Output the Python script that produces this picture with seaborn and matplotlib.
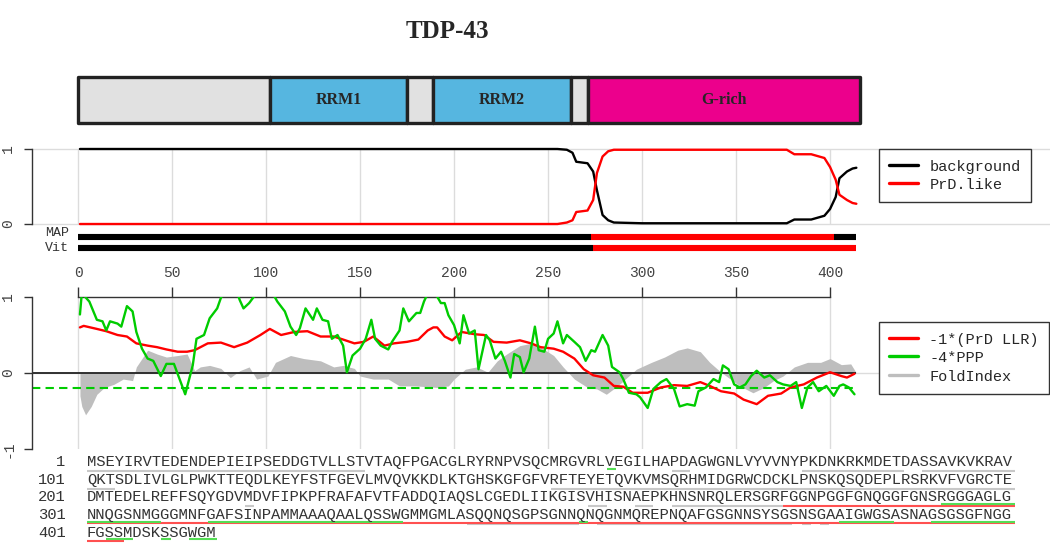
import matplotlib
matplotlib.use("Agg")
import matplotlib.pyplot as plt
from matplotlib.lines import Line2D
import seaborn as sns

# ---------------------------------------------------------------------------
# Dados
# ---------------------------------------------------------------------------

PROTEIN = "TDP-43"
SEQUENCE = (
    "MSEYIRVTEDENDEPIEIPSEDDGTVLLSTVTAQFPGACGLRYRNPVSQCMRGVRLVEGILHAPDAGWGNLVYVVNYPKDNKRKMDETDASSAVKVKRAV"
    "QKTSDLIVLGLPWKTTEQDLKEYFSTFGEVLMVQVKKDLKTGHSKGFGFVRFTEYETQVKVMSQRHMIDGRWCDCKLPNSKQSQDEPLRSRKVFVGRCTE"
    "DMTEDELREFFSQYGDVMDVFIPKPFRAFAFVTFADDQIAQSLCGEDLIIKGISVHISNAEPKHNSNRQLERSGRFGGNPGGFGNQGGFGNSRGGGAGLG"
    "NNQGSNMGGGMNFGAFSINPAMMAAAQAALQSSWGMMGMLASQQNQSGPSGNNQNQGNMQREPNQAFGSGNNSYSGSNSGAAIGWGSASNAGSGSGFNGG"
    "FGSSMDSKSSGWGM"
)
SEQ_LEN = len(SEQUENCE)

# dominios (limites em residuos)
domain_names = ["", "RRM1", "", "RRM2", "", "G-rich"]
domain_bounds = [0, 102, 175, 189, 262, 271, 416]
domain_colors = ["#e1e1e1", "#56b6e0", "#e1e1e1", "#56b6e0", "#e1e1e1", "#ec008c"]

# probabilidades posteriores (HMM)
hmm_pos = [1, 255, 260, 263, 265, 271, 274, 276, 279, 282, 285, 300, 350, 377,
           381, 390, 397, 400, 403, 405, 409, 412, 414]
background = [1.0, 1.0, 0.99, 0.95, 0.83, 0.81, 0.70, 0.45, 0.12, 0.05, 0.02, 0.01, 0.01, 0.01,
              0.06, 0.06, 0.11, 0.20, 0.36, 0.61, 0.70, 0.74, 0.75]
prd_like = [0.0, 0.0, 0.02, 0.05, 0.16, 0.18, 0.32, 0.68, 0.90, 0.97, 0.99, 0.99, 0.99, 0.99,
            0.93, 0.93, 0.88, 0.76, 0.59, 0.39, 0.32, 0.28, 0.27]

# parses MAP e Viterbi: (inicio, fim, estado)
map_parse = [(0, 273, "background"), (273, 402, "PrD.like"), (402, 414, "background")]
vit_parse = [(0, 274, "background"), (274, 414, "PrD.like")]

# -1*(PrD LLR)
llr_pos = [1, 3, 10, 15, 21, 26, 31, 37, 42, 47, 53, 58, 62, 69, 76, 83, 90, 97, 102, 108,
           115, 122, 129, 136, 141, 147, 152, 157, 163, 168, 175, 181, 186, 189, 191, 195, 199,
           204, 211, 216, 221, 228, 235, 241, 246, 253, 258, 264, 269, 274, 280, 285, 290, 295,
           303, 310, 317, 324, 331, 336, 342, 349, 354, 361, 367, 374, 379, 386, 393, 400, 406,
           409, 413]
llr = [0.60, 0.62, 0.58, 0.55, 0.50, 0.48, 0.39, 0.36, 0.34, 0.31, 0.28, 0.28, 0.30, 0.39, 0.40,
       0.34, 0.40, 0.50, 0.58, 0.50, 0.54, 0.55, 0.48, 0.48, 0.44, 0.39, 0.41, 0.48, 0.36, 0.39,
       0.41, 0.44, 0.56, 0.60, 0.60, 0.48, 0.43, 0.54, 0.51, 0.50, 0.41, 0.40, 0.43, 0.39, 0.34,
       0.32, 0.28, 0.19, 0.05, -0.03, -0.06, -0.17, -0.18, -0.26, -0.26, -0.19, -0.16, -0.17,
       -0.12, -0.17, -0.24, -0.27, -0.35, -0.41, -0.30, -0.27, -0.19, -0.15, -0.06, 0.01, -0.04,
       -0.06, -0.01]

# -4*PPP
ppp_pos = [1, 2, 6, 10, 13, 15, 17, 21, 23, 26, 29, 31, 34, 37, 40, 44, 47, 51, 54, 57, 61, 63,
           67, 70, 74, 76, 80, 84, 86, 88, 91, 94, 100, 106, 110, 113, 116, 118, 121, 125, 127,
           130, 133, 135, 138, 141, 143, 146, 150, 153, 156, 158, 161, 165, 167, 171, 173, 176,
           180, 182, 184, 187, 190, 193, 195, 197, 200, 203, 205, 208, 211, 213, 217, 219, 222,
           225, 227, 230, 232, 235, 237, 240, 243, 245, 248, 250, 253, 255, 258, 260, 264, 267,
           270, 273, 275, 279, 282, 284, 288, 290, 293, 297, 299, 303, 306, 310, 313, 317, 320,
           324, 328, 330, 334, 338, 341, 343, 346, 349, 352, 355, 358, 361, 365, 368, 372, 375,
           379, 382, 385, 388, 391, 394, 398, 402, 405, 407, 410, 413]
ppp = [0.77, 1.05, 0.94, 0.70, 0.68, 0.56, 0.68, 0.65, 0.61, 0.88, 0.81, 0.54, 0.32, 0.19, 0.16,
       -0.04, 0.12, 0.12, -0.08, -0.28, 0.10, 0.45, 0.50, 0.72, 0.85, 0.99, 1.15, 1.10, 0.96, 0.85,
       0.92, 1.02, 1.20, 0.94, 0.81, 0.61, 0.50, 0.59, 0.85, 0.70, 0.85, 0.70, 0.68, 0.45, 0.50,
       0.36, 0.01, 0.23, 0.32, 0.45, 0.70, 0.45, 0.36, 0.31, 0.41, 0.56, 0.85, 0.68, 0.79, 0.79,
       0.94, 1.10, 1.05, 0.92, 0.92, 0.76, 0.63, 0.39, 0.76, 0.52, 0.56, 0.05, 0.50, 0.43, 0.19,
       0.28, 0.16, -0.06, 0.25, 0.21, 0.01, 0.19, 0.61, 0.30, 0.28, 0.45, 0.52, 0.68, 0.39, 0.50,
       0.41, 0.34, 0.16, 0.30, 0.28, 0.50, 0.36, 0.08, 0.01, -0.08, -0.26, -0.28, -0.32, -0.46,
       -0.21, -0.12, -0.08, -0.21, -0.44, -0.41, -0.43, -0.24, -0.19, -0.08, -0.12, 0.10, 0.05,
       -0.15, -0.19, -0.15, -0.04, 0.03, -0.06, -0.03, -0.12, -0.15, -0.17, -0.12, -0.46, -0.19,
       -0.12, -0.24, -0.17, -0.30, -0.17, -0.15, -0.19, -0.28]
PPP_THRESHOLD = -0.2

# FoldIndex
fold_pos = [1, 2, 4, 7, 10, 14, 19, 24, 29, 31, 37, 42, 47, 53, 58, 62, 65, 70, 76, 81, 86, 91,
            95, 101, 105, 113, 120, 129, 136, 141, 147, 150, 157, 165, 171, 179, 186, 191, 197,
            200, 206, 212, 218, 223, 228, 235, 241, 246, 253, 258, 264, 271, 276, 281, 287, 292,
            297, 305, 312, 319, 324, 331, 336, 342, 347, 352, 359, 365, 370, 375, 381, 388, 395,
            400, 406, 411, 414]
fold_index = [-0.30, -0.44, -0.55, -0.44, -0.28, -0.19, -0.15, -0.08, -0.10, 0.08, 0.30, 0.25,
              0.21, 0.23, 0.25, 0.03, 0.08, 0.10, 0.06, -0.06, 0.03, 0.08, -0.08, -0.04, 0.14,
              0.23, 0.19, 0.16, 0.08, 0.10, 0.06, -0.04, -0.08, -0.08, -0.17, -0.17, -0.18, -0.19,
              -0.17, -0.08, 0.05, 0.08, 0.01, 0.16, 0.25, 0.36, 0.39, 0.34, 0.23, 0.08, -0.08,
              -0.19, -0.21, -0.28, -0.17, -0.06, 0.05, 0.14, 0.21, 0.30, 0.33, 0.28, 0.14, 0.01,
              -0.08, -0.17, -0.26, -0.19, -0.10, -0.04, 0.08, 0.14, 0.14, 0.19, 0.11, 0.12, 0.0]

# sublinhados da sequencia (residuos, inclusivos)
grey_segments = [(1, 30), (64, 65), (78, 80), (81, 88), (91, 100), (101, 103), (151, 200),
                 (218, 218), (255, 256), (260, 261), (264, 275), (287, 295), (342, 353),
                 (356, 376), (378, 378), (380, 380)]
green_segments = [(57, 57), (293, 300), (301, 308), (314, 334), (354, 354), (382, 387),
                  (392, 400), (403, 405), (409, 409), (412, 414)]
red_segments = [(276, 404)]

x_ticks = list(range(0, 401, 50))

# ---------------------------------------------------------------------------
# Estilo
# ---------------------------------------------------------------------------

sns.set_theme(style="white")
plt.rcParams["font.family"] = ["Liberation Mono", "DejaVu Sans"]
plt.rcParams["axes.unicode_minus"] = False

STATE_COLORS = {"background": "black", "PrD.like": "#ff0000"}
RED = "#ff0000"
GREEN = "#00cc00"
GREY = "#bebebe"
GRID = "#dcdcdc"
AXIS = "#333333"
MONO = "Liberation Mono"

W, H = 1050, 544
fig = plt.figure(figsize=(W / 100, H / 100), dpi=100)


def px_axes(left, top, right, bottom):
    return fig.add_axes([left / W, 1 - bottom / H, (right - left) / W, (bottom - top) / H])


XLIM = (-24.5, 517.0)


def style_y_axis(ax, lo, hi, ticks):
    for s in ["top", "right", "bottom"]:
        ax.spines[s].set_visible(False)
    ax.spines["left"].set_bounds(lo, hi)
    ax.spines["left"].set_color(AXIS)
    ax.spines["left"].set_linewidth(1.0)
    ax.set_yticks(ticks)
    ax.set_yticklabels([str(t) for t in ticks], rotation=90, va="center",
                       family=MONO, fontsize=10.5, color="#444444")
    ax.tick_params(axis="y", left=True, length=6, width=1, color=AXIS, pad=6)
    ax.set_xlim(*XLIM)
    ax.set_xlabel("")
    ax.set_ylabel("")


def make_legend(ax, colors, labels, top_px):
    leg = ax.legend(
        handles=[Line2D([], [], color=c, lw=2.4) for c in colors],
        labels=labels,
        loc="upper left", bbox_to_anchor=(879 / W, 1 - top_px / H),
        bbox_transform=fig.transFigure,
        prop={"family": MONO, "size": 11}, frameon=True, fancybox=False, framealpha=1,
        edgecolor="#333333", borderaxespad=0, handlelength=1.9, handletextpad=0.75,
        handleheight=1.0, labelspacing=0.22, borderpad=0.65,
    )
    leg.get_frame().set_linewidth(1.0)
    return leg


# ---------------------------------------------------------------------------
# Titulo e dominios
# ---------------------------------------------------------------------------

fig.text(447 / W, 1 - 32 / H, PROTEIN, ha="center", va="center",
         family="Liberation Serif", fontweight="bold", fontsize=18)

ax_dom = px_axes(32, 77, 1050, 123)
ax_dom.set_xlim(*XLIM)
ax_dom.set_ylim(0, 1)
ax_dom.axis("off")
spans = [(domain_bounds[i], domain_bounds[i + 1] - domain_bounds[i]) for i in range(len(domain_names))]
ax_dom.broken_barh(spans, (0, 1), facecolors=domain_colors, edgecolor="#222222",
                   linewidth=2.4, clip_on=False)
for (start, width), name in zip(spans, domain_names):
    if name:
        ax_dom.text(start + width / 2, 0.5, name, ha="center", va="center",
                    family="Liberation Serif", fontweight="bold", fontsize=11.5)

# ---------------------------------------------------------------------------
# Painel HMM
# ---------------------------------------------------------------------------

ax_hmm = px_axes(32, 140, 1050, 258)
ax_hmm.set_ylim(-0.453, 1.12)
ax_hmm.vlines(x_ticks, 0, 1, color=GRID, lw=1, zorder=0)
ax_hmm.axhline(0, color=GRID, lw=1, zorder=0)
ax_hmm.axhline(1, color=GRID, lw=1, zorder=0)
sns.lineplot(x=hmm_pos, y=background, ax=ax_hmm, color="black", linewidth=1.7)
sns.lineplot(x=hmm_pos, y=prd_like, ax=ax_hmm, color=RED, linewidth=1.7)

MAP_Y, VIT_Y = -0.175, -0.32
for y, parse in [(MAP_Y, map_parse), (VIT_Y, vit_parse)]:
    ax_hmm.hlines([y] * len(parse), [p[0] for p in parse], [p[1] for p in parse],
                  colors=[STATE_COLORS[p[2]] for p in parse], lw=4.4, capstyle="butt")
ax_hmm.text(-5, MAP_Y + 0.05, "MAP", ha="right", va="center", family=MONO,
            fontsize=9.5, color=AXIS)
ax_hmm.text(-5, VIT_Y - 0.005, "Vit", ha="right", va="center", family=MONO,
            fontsize=9.5, color=AXIS)
style_y_axis(ax_hmm, 0, 1, [0, 1])
ax_hmm.set_xticks([])
make_legend(ax_hmm, ["black", RED], ["background", "PrD.like"], 149)

# ---------------------------------------------------------------------------
# Painel de escores
# ---------------------------------------------------------------------------

ax_sc = px_axes(32, 297, 1050, 449)
ax_sc.set_ylim(-1, 1)
ax_sc.vlines(x_ticks, -1, 1, color=GRID, lw=1, zorder=0)
ax_sc.axhline(0, color=GRID, lw=1, zorder=0)
ax_sc.fill_between(fold_pos, 0, fold_index, color=GREY, lw=0, zorder=1)
ax_sc.hlines(0, XLIM[0], SEQ_LEN, color="#222222", lw=1.3, zorder=2)
ax_sc.hlines(PPP_THRESHOLD, XLIM[0], SEQ_LEN, color=GREEN, lw=1.5,
             linestyles=(0, (4, 2.5)), zorder=2)
sns.lineplot(x=llr_pos, y=llr, ax=ax_sc, color=RED, linewidth=1.7, zorder=3)
sns.lineplot(x=ppp_pos, y=ppp, ax=ax_sc, color=GREEN, linewidth=1.7, zorder=4)
style_y_axis(ax_sc, -1, 1, [-1, 0, 1])
ax_sc.spines["top"].set_visible(True)
ax_sc.spines["top"].set_bounds(0, 400)
ax_sc.spines["top"].set_color(AXIS)
ax_sc.spines["top"].set_linewidth(1.0)
ax_sc.xaxis.tick_top()
ax_sc.set_xticks(x_ticks)
ax_sc.set_xticklabels([str(t) for t in x_ticks], family=MONO, fontsize=10.5, color="#444444")
ax_sc.tick_params(axis="x", top=True, bottom=False, direction="out", length=7, width=1,
                  color=AXIS, pad=5)
make_legend(ax_sc, [RED, GREEN, GREY], ["-1*(PrD LLR)", "-4*PPP", "FoldIndex"], 322)

# ---------------------------------------------------------------------------
# Sequencia com sublinhados
# ---------------------------------------------------------------------------

LINE_W = 100
n_lines = (SEQ_LEN + LINE_W - 1) // LINE_W
ax_seq = px_axes(87, 452, 1015, 544)
ax_seq.set_xlim(0, LINE_W)
ax_seq.set_ylim(4.63, -0.565)
ax_seq.axis("off")

for i in range(n_lines):
    chunk = SEQUENCE[i * LINE_W:(i + 1) * LINE_W]
    ax_seq.text(0, i, chunk, ha="left", va="center", family=MONO, fontsize=11.14, color="#333333")
    ax_seq.text(-2.3, i, str(i * LINE_W + 1), ha="right", va="center", family=MONO,
                fontsize=11.14, color="#333333")


def draw_underlines(segments, offset, color):
    for start, end in segments:
        r = start
        while r <= end:
            line = (r - 1) // LINE_W
            line_end = min(end, (line + 1) * LINE_W)
            c0 = (r - 1) % LINE_W
            c1 = (line_end - 1) % LINE_W + 1
            ax_seq.plot([c0, c1], [line + offset, line + offset], color=color, lw=1.5,
                        solid_capstyle="butt")
            r = line_end + 1


draw_underlines(grey_segments, 0.50, "#c8c8c8")
draw_underlines(red_segments, 0.47, "#ff5050")
draw_underlines(green_segments, 0.37, "#55dd55")

fig.savefig("out.png", dpi=100)
